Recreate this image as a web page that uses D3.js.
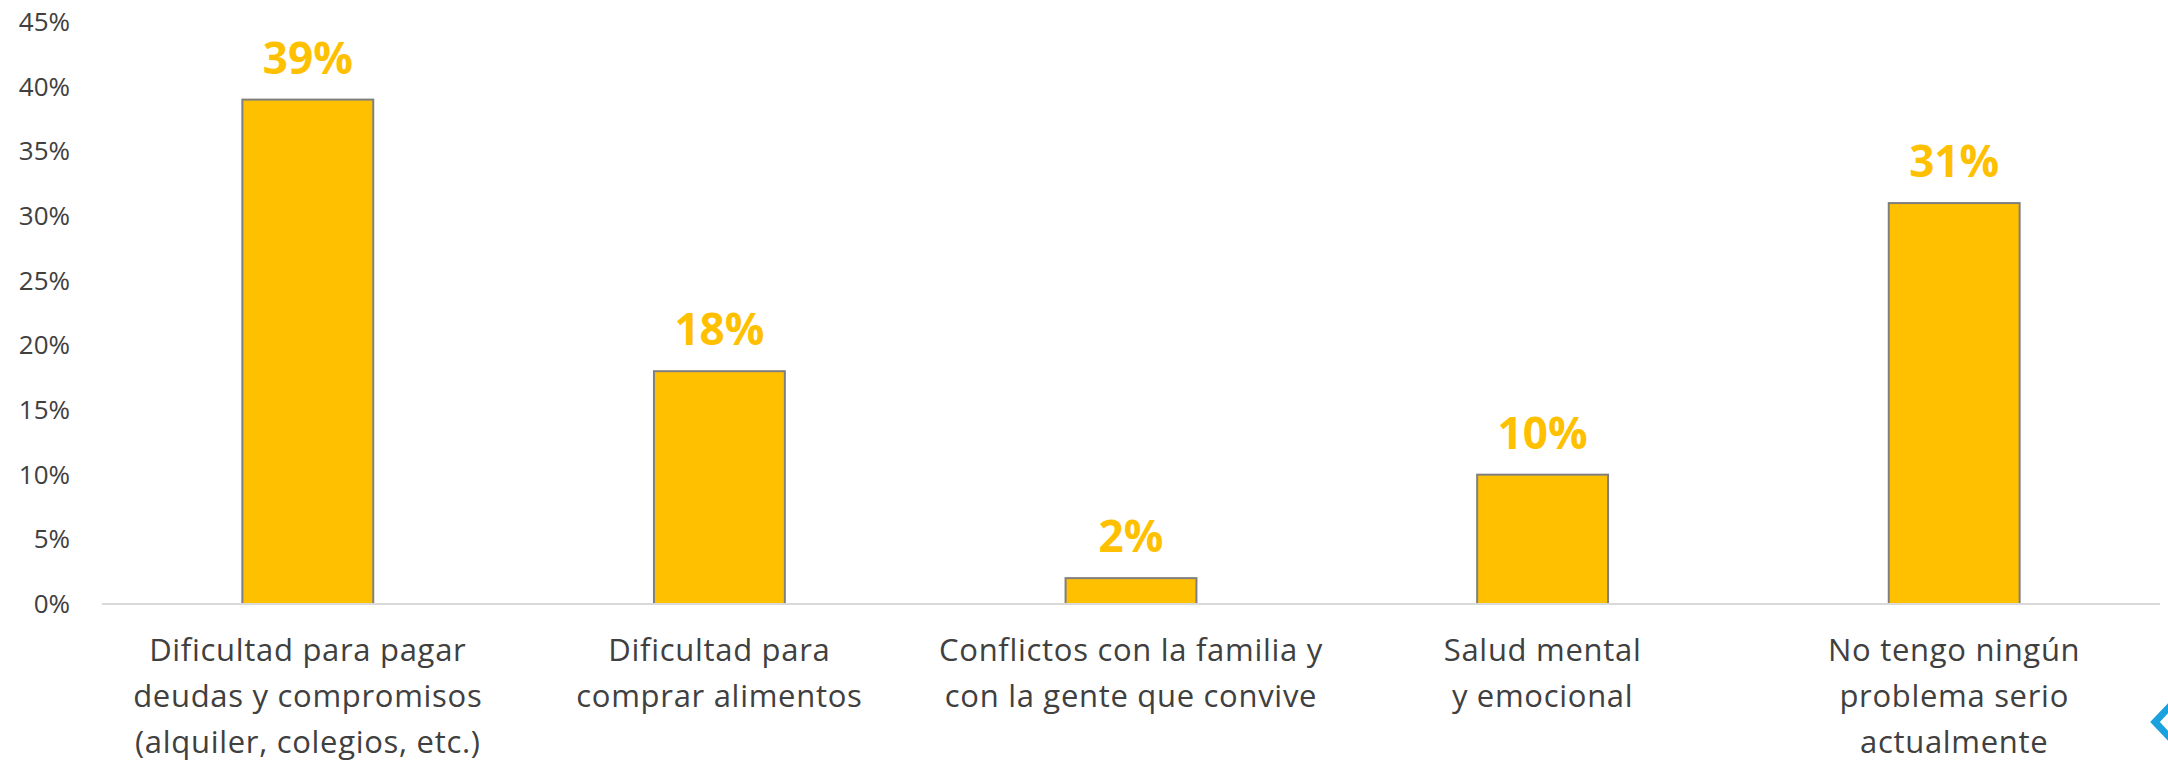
<!DOCTYPE html>
<html>
<head>
<meta charset="utf-8">
<script src="https://cdn.jsdelivr.net/npm/d3@7"></script>
<style>
  body { margin: 0; background: #fff; }
  svg { display: block; font-family: "Open Sans", sans-serif; }
</style>
</head>
<body>
<div id="chart"></div>
<script>
// chart data
var categories = [
  ["Dificultad para pagar", "deudas y compromisos", "(alquiler, colegios, etc.)"],
  ["Dificultad para", "comprar alimentos"],
  ["Conflictos con la familia y", "con la gente que convive"],
  ["Salud mental", "y emocional"],
  ["No tengo ningún", "problema serio", "actualmente"]
];
var values = [0.39, 0.18, 0.02, 0.10, 0.31];
var yTicks = [0, 0.05, 0.10, 0.15, 0.20, 0.25, 0.30, 0.35, 0.40, 0.45];

var width = 2168, height = 760;
var margin = {top: 22, right: 8, bottom: 156, left: 102};

var svg = d3.select("#chart").append("svg")
    .attr("width", width)
    .attr("height", height);

var x = d3.scaleBand()
    .domain(d3.range(categories.length))
    .range([margin.left, width - margin.right])
    .paddingInner(0.682)
    .paddingOuter(0.341);

var y = d3.scaleLinear()
    .domain([0, 0.45])
    .range([height - margin.bottom, margin.top]);

// y axis labels
svg.append("g")
    .selectAll("text")
    .data(yTicks)
    .enter().append("text")
    .attr("x", 70)
    .attr("y", function(d) { return y(d); })
    .attr("dy", "0.35em")
    .attr("text-anchor", "end")
    .attr("font-size", 26)
    .attr("fill", "#404040")
    .text(d3.format(".0%"));

// bars
svg.append("g")
    .selectAll("rect")
    .data(values)
    .enter().append("rect")
    .attr("x", function(d, i) { return x(i); })
    .attr("y", function(d) { return y(d); })
    .attr("width", x.bandwidth())
    .attr("height", function(d) { return y(0) - y(d); })
    .attr("fill", "#FFC000")
    .attr("stroke", "#7F7F7F")
    .attr("stroke-width", 2);

// baseline
svg.append("line")
    .attr("x1", margin.left)
    .attr("x2", width - margin.right)
    .attr("y1", y(0))
    .attr("y2", y(0))
    .attr("stroke", "#D9D9D9")
    .attr("stroke-width", 2);

// value labels
svg.append("g")
    .selectAll("text")
    .data(values)
    .enter().append("text")
    .attr("x", function(d, i) { return x(i) + x.bandwidth() / 2; })
    .attr("y", function(d) { return y(d) - 26; })
    .attr("text-anchor", "middle")
    .attr("font-size", 44)
    .attr("font-weight", "bold")
    .attr("fill", "#FFC000")
    .text(d3.format(".0%"));

// category labels
var cat = svg.append("g")
    .selectAll("text")
    .data(categories)
    .enter().append("text")
    .attr("x", function(d, i) { return x(i) + x.bandwidth() / 2; })
    .attr("y", 661)
    .attr("text-anchor", "middle")
    .attr("font-size", 31)
    .attr("letter-spacing", 0.7)
    .attr("fill", "#404040");

cat.selectAll("tspan")
    .data(function(d) { return d; })
    .enter().append("tspan")
    .attr("x", function() { return d3.select(this.parentNode).attr("x"); })
    .attr("dy", function(d, i) { return i ? 46 : 0; })
    .text(function(d) { return d; });

// corner chevron
svg.append("path")
    .attr("d", "M2172,704 L2155,722 L2172,740")
    .attr("fill", "none")
    .attr("stroke", "#1BA1DE")
    .attr("stroke-width", 7);
</script>
</body>
</html>
